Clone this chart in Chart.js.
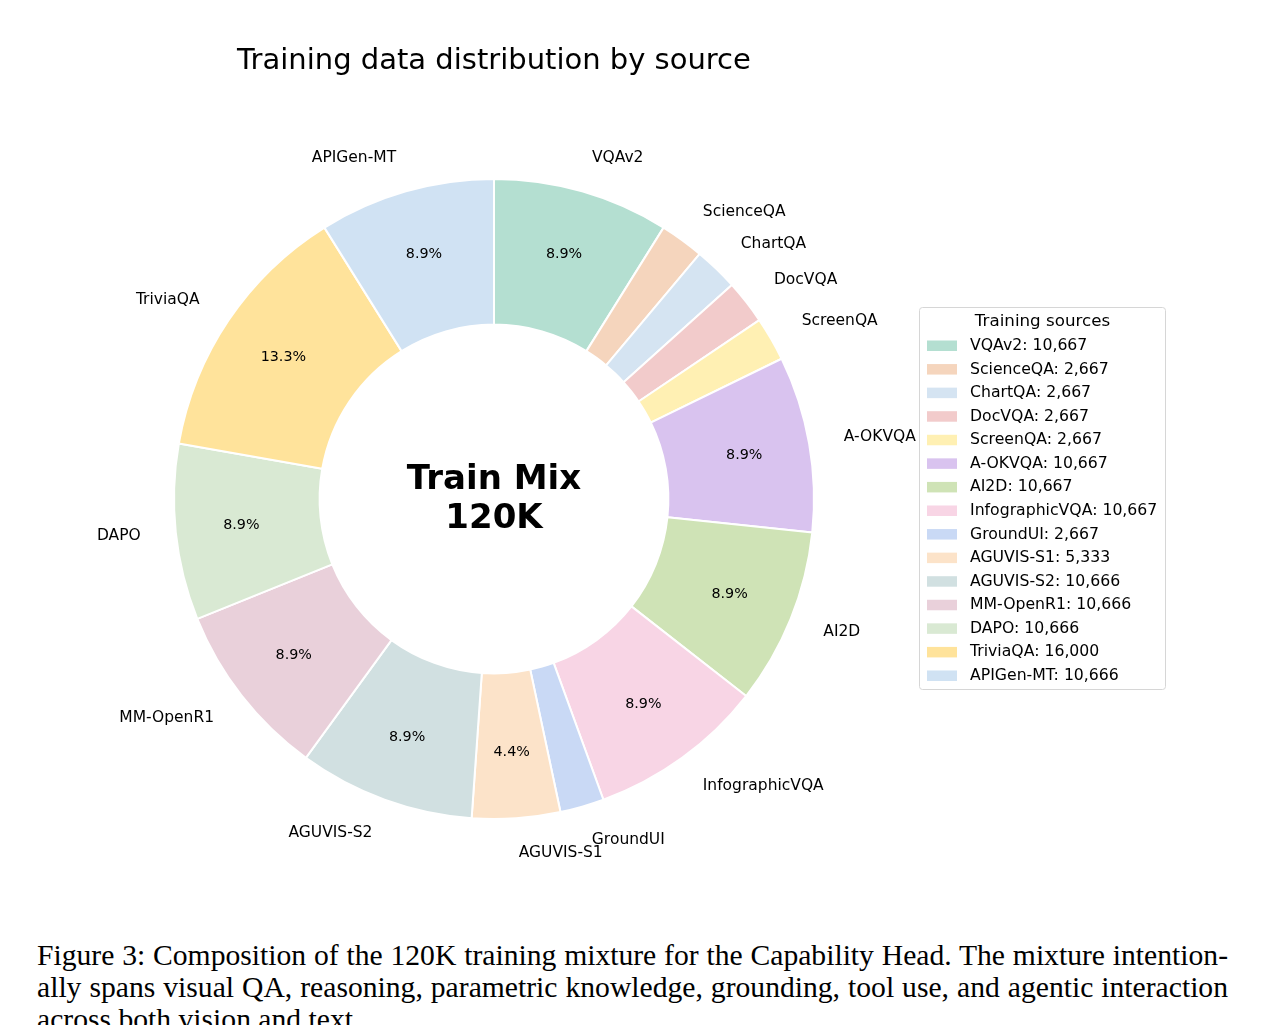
<!DOCTYPE html>
<html>
<head>
<meta charset="utf-8">
<script src="https://cdn.jsdelivr.net/npm/chart.js@4.4.1/dist/chart.umd.min.js"></script>
<style>
  html, body { margin: 0; padding: 0; background: #fff; }
  body { width: 1265px; height: 1025px; overflow: hidden; position: relative; }
  #wrap { position: absolute; left: 0; top: 0; width: 1265px; height: 930px; }
  .cap { position: absolute; left: 37px; width: 1191px; font-family: "Liberation Serif", "Times New Roman", serif;
         font-size: 27px; line-height: 32px; color: #000; white-space: nowrap; }
  .just { text-align: justify; text-align-last: justify; }
  #measure { position: absolute; left: -5000px; top: 0; white-space: nowrap; font-family: "Liberation Serif", "Times New Roman", serif; font-size: 27px; }
</style>
</head>
<body>
<div id="wrap"><canvas id="c" width="1265" height="930"></canvas></div>
<div class="cap just" style="top:939px">Figure 3: Composition of the 120K training mixture for the Capability Head. The mixture intention-</div>
<div class="cap just" style="top:971px">ally spans visual QA, reasoning, parametric knowledge, grounding, tool use, and agentic interaction</div>
<div class="cap" style="top:1003px">across both vision and text.</div>
<span id="measure">Figure 3: Composition of the 120K training mixture for the Capability Head. The mixture intention-</span>
<script>
const categories = ["VQAv2","ScienceQA","ChartQA","DocVQA","ScreenQA","A-OKVQA","AI2D","InfographicVQA","GroundUI","AGUVIS-S1","AGUVIS-S2","MM-OpenR1","DAPO","TriviaQA","APIGen-MT"];
const counts = [10667,2667,2667,2667,2667,10667,10667,10667,2667,5333,10666,10666,10666,16000,10666];
const colors = ["#b4dfd1","#f5d5bd","#d5e4f2","#f2cbcb","#fff0b3","#d9c3ef","#cfe3b6","#f8d5e5","#c9d9f5","#fce3c9","#d1e0e1","#e9d0da","#d9e9d3","#ffe39b","#d0e2f3"];
const titleText = "Training data distribution by source";
const centerLines = ["Train Mix","120K"];
const legendTitle = "Training sources";

// fit caption font so the first line naturally fills the text width
(function fitCaption(){
  const m = document.getElementById('measure');
  const w = m.getBoundingClientRect().width;
  const fs = Math.min(30, 27 * 1186 / w);
  document.querySelectorAll('.cap').forEach(el => { el.style.fontSize = fs + 'px'; });
  m.remove();
})();

const FONT = '"DejaVu Sans", Verdana, sans-serif';
const total = counts.reduce((a,b)=>a+b,0);

const overlay = {
  id: 'overlay',
  afterDraw(chart) {
    const ctx = chart.ctx;
    const meta = chart.getDatasetMeta(0);
    ctx.save();
    ctx.fillStyle = '#000';
    // Title
    ctx.font = '29px ' + FONT;
    ctx.textAlign = 'center';
    ctx.textBaseline = 'alphabetic';
    ctx.fillText(titleText, 494, 69);
    // outer labels and pct
    meta.data.forEach((arc, i) => {
      const p = arc.getProps(['x','y','startAngle','endAngle','outerRadius','innerRadius'], true);
      const mid = (p.startAngle + p.endAngle) / 2;
      const cx = Math.cos(mid), sy = Math.sin(mid);
      const lr = p.outerRadius * 1.11;
      ctx.font = '15.5px ' + FONT;
      ctx.textBaseline = 'middle';
      ctx.textAlign = cx >= 0 ? 'left' : 'right';
      ctx.fillText(categories[i], p.x + cx * lr, p.y + sy * lr);
      const pct = counts[i] / total * 100;
      if (pct >= 3) {
        const pr = p.outerRadius * 0.794;
        ctx.font = '14.3px ' + FONT;
        ctx.textAlign = 'center';
        ctx.fillText(pct.toFixed(1) + '%', p.x + cx * pr, p.y + sy * pr);
      }
    });
    // center text
    const a0 = meta.data[0];
    ctx.font = 'bold 34px ' + FONT;
    ctx.textAlign = 'center';
    ctx.textBaseline = 'middle';
    ctx.fillText(centerLines[0], a0.x, 480);
    ctx.fillText(centerLines[1], a0.x, 519);
    // legend
    const lx = 919.5, ly = 307.5, lw = 246, lh = 382;
    ctx.fillStyle = 'rgba(255,255,255,0.8)';
    ctx.strokeStyle = '#d6d6d6';
    ctx.lineWidth = 1;
    ctx.beginPath();
    ctx.roundRect(lx, ly, lw, lh, 3);
    ctx.fill();
    ctx.stroke();
    ctx.fillStyle = '#000';
    ctx.font = '16.7px ' + FONT;
    ctx.textAlign = 'center';
    ctx.fillText(legendTitle, lx + lw/2, 322);
    ctx.textAlign = 'left';
    ctx.font = '15.7px ' + FONT;
    categories.forEach((c, i) => {
      const y = 345.5 + i * 23.57;
      ctx.fillStyle = colors[i];
      ctx.fillRect(927, y - 5, 30, 10.5);
      ctx.fillStyle = '#000';
      ctx.fillText(c + ': ' + counts[i].toLocaleString('en-US'), 970, y + 0.5);
    });
    ctx.restore();
  }
};

new Chart(document.getElementById('c'), {
  type: 'doughnut',
  data: {
    labels: categories,
    datasets: [{
      data: counts,
      backgroundColor: colors,
      borderColor: '#ffffff',
      borderWidth: 2,
      borderAlign: 'center',
      hoverOffset: 0
    }]
  },
  options: {
    responsive: false,
    animation: false,
    devicePixelRatio: 1,
    cutout: '54.5%',
    rotation: 0,
    layout: { padding: { left: 173, right: 450, top: 178, bottom: 110 } },
    plugins: { legend: { display: false }, tooltip: { enabled: false }, title: { display: false } }
  },
  plugins: [overlay]
});
</script>
</body>
</html>
